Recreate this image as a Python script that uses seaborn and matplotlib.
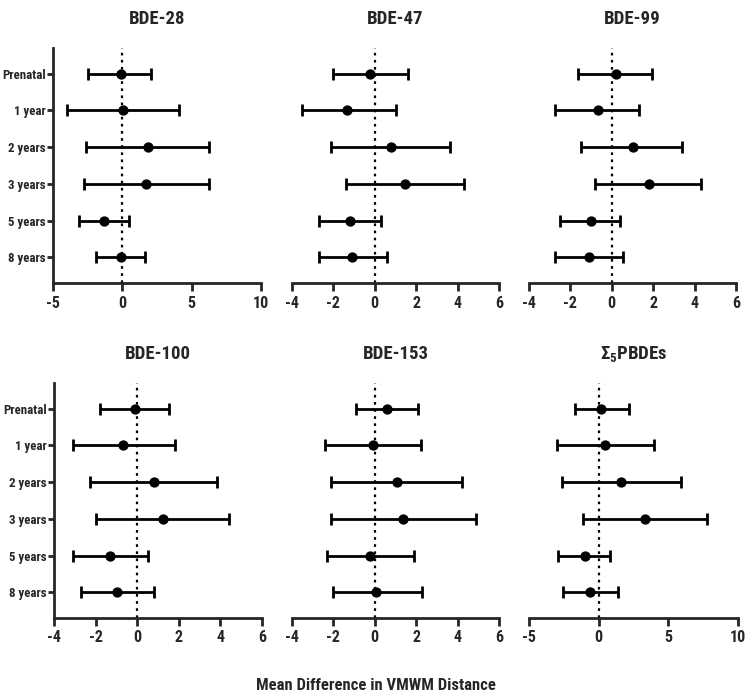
import numpy as np
import pandas as pd
import matplotlib
matplotlib.use("Agg")
import matplotlib.pyplot as plt
import seaborn as sns

categories = ['Prenatal', '1 year', '2 years', '3 years', '5 years', '8 years']

panels = ['BDE-28', 'BDE-47', 'BDE-99', 'BDE-100', 'BDE-153', r'$\mathbf{\Sigma_5}$PBDEs']

bde28_mean = [-0.10, 0.07, 1.88, 1.74, -1.35, -0.10]
bde28_low = [-2.44, -3.96, -2.63, -2.73, -3.14, -1.93]
bde28_high = [2.08, 4.08, 6.25, 6.25, 0.48, 1.67]

bde47_mean = [-0.23, -1.32, 0.79, 1.48, -1.22, -1.11]
bde47_low = [-2.01, -3.53, -2.13, -1.40, -2.69, -2.69]
bde47_high = [1.59, 1.00, 3.61, 4.30, 0.29, 0.58]

bde99_mean = [0.21, -0.69, 1.00, 1.80, -1.00, -1.10]
bde99_low = [-1.61, -2.72, -1.50, -0.79, -2.51, -2.72]
bde99_high = [1.93, 1.29, 3.41, 4.32, 0.40, 0.52]

bde100_mean = [-0.10, -0.69, 0.82, 1.22, -1.30, -0.99]
bde100_low = [-1.78, -3.10, -2.29, -1.97, -3.09, -2.69]
bde100_high = [1.52, 1.82, 3.82, 4.43, 0.51, 0.82]

bde153_mean = [0.58, -0.11, 1.08, 1.38, -0.23, 0.08]
bde153_low = [-0.90, -2.42, -2.13, -2.13, -2.30, -2.01]
bde153_high = [2.08, 2.21, 4.20, 4.91, 1.88, 2.30]

sum5_mean = [0.17, 0.48, 1.58, 3.29, -1.01, -0.62]
sum5_low = [-1.73, -2.97, -2.61, -1.15, -2.90, -2.54]
sum5_high = [2.16, 3.96, 5.90, 7.77, 0.79, 1.37]

xlims = [(-5, 10), (-4, 6), (-4, 6), (-4, 6), (-4, 6), (-5, 10)]
xticks = [[-5, 0, 5, 10], [-4, -2, 0, 2, 4, 6], [-4, -2, 0, 2, 4, 6],
          [-4, -2, 0, 2, 4, 6], [-4, -2, 0, 2, 4, 6], [-5, 0, 5, 10]]

means = [bde28_mean, bde47_mean, bde99_mean, bde100_mean, bde153_mean, sum5_mean]
lows = [bde28_low, bde47_low, bde99_low, bde100_low, bde153_low, sum5_low]
highs = [bde28_high, bde47_high, bde99_high, bde100_high, bde153_high, sum5_high]

rows = []
for p, m, lo, hi in zip(panels, means, lows, highs):
    for i, c in enumerate(categories):
        rows.append(dict(panel=p, category=c, pos=i, mean=m[i], low=lo[i], high=hi[i]))
df = pd.DataFrame(rows)

sns.set_theme(style='ticks')
plt.rcParams['font.family'] = ['Roboto Condensed', 'DejaVu Sans']
plt.rcParams['axes.unicode_minus'] = False
plt.rcParams['mathtext.fontset'] = 'custom'
plt.rcParams['mathtext.rm'] = 'Roboto Condensed'
plt.rcParams['mathtext.bf'] = 'Roboto Condensed:bold'

fig = plt.figure(figsize=(7.51, 7.0), dpi=100)
W, H = 751, 700
boxes = [(53, 48, 261, 283), (292, 48, 499, 283), (529, 48, 736, 283),
         (54, 383, 262, 618), (292, 383, 499, 618), (529, 383, 738, 618)]

for k, p in enumerate(panels):
    x0, y0, x1, y1 = boxes[k]
    ax = fig.add_axes([x0 / W, 1 - y1 / H, (x1 - x0) / W, (y1 - y0) / H])
    sub = df[df.panel == p]
    ax.axvline(0, color='black', ls=(0, (1.2, 2.0)), lw=1.6, zorder=1)
    ax.errorbar(sub['mean'], sub['pos'],
                xerr=[sub['mean'] - sub['low'], sub['high'] - sub['mean']],
                fmt='none', ecolor='black', elinewidth=2.0, capsize=4, capthick=2.0, zorder=2)
    sns.scatterplot(data=sub, x='mean', y='pos', ax=ax, color='black', s=55,
                    edgecolor='black', linewidth=0, zorder=3, legend=False)
    ax.set_xlim(*xlims[k])
    ax.set_xticks(xticks[k])
    ax.set_ylim(5.7, -0.7)
    ax.set_xlabel('')
    ax.set_ylabel('')
    ax.set_title(p, fontsize=13.5, fontweight='bold', pad=17)
    for s in ['top', 'right']:
        ax.spines[s].set_visible(False)
    ax.spines['bottom'].set_linewidth(2)
    ax.spines['left'].set_linewidth(2)
    ax.tick_params(axis='x', length=6, width=2, labelsize=11.5, pad=3)
    for lab in ax.get_xticklabels():
        lab.set_fontweight('bold')
    if k % 3 == 0:
        ax.set_yticks(range(len(categories)))
        ax.set_yticklabels(categories, fontsize=9.3, fontweight='bold')
        ax.tick_params(axis='y', length=4, width=2, pad=1)
    else:
        ax.spines['left'].set_visible(False)
        ax.set_yticks([])

fig.text(0.5, 1 - 685 / H, 'Mean Difference in VMWM Distance', ha='center', va='center',
         fontsize=12, fontweight='bold')

fig.savefig('out.png', dpi=100)
